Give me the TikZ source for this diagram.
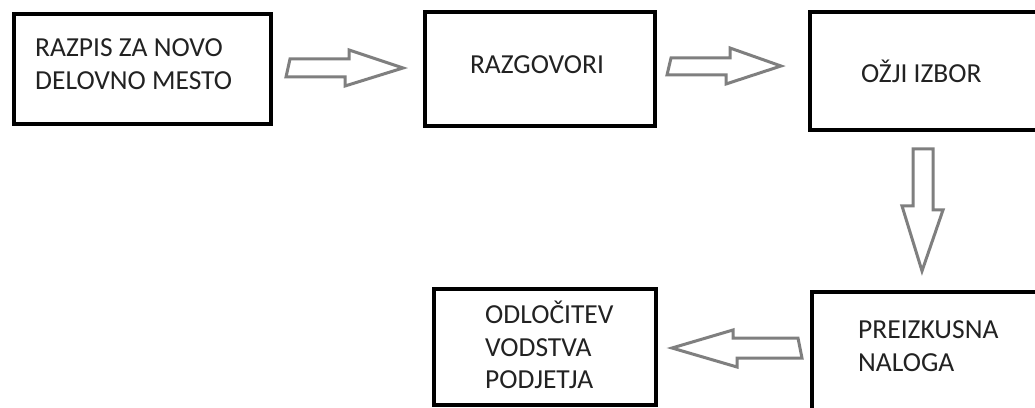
\documentclass[tikz,border=0pt]{standalone}
\usepackage{fontspec}
\setmainfont{Carlito}
\usepackage{xcolor}
\usepackage{tikz}
\usetikzlibrary{calc}
\definecolor{cBox}{HTML}{000000}
\definecolor{cTxt}{HTML}{222222}
\definecolor{cArr}{HTML}{7F7F7F}
\tikzset{
  fig/box/.style    ={draw=cBox, line width=4pt, fill=white, inner sep=0pt},
  fig/txt/.style    ={font=\fontsize{27.5}{32.5}\selectfont, text=cTxt,
                      align=left, inner sep=0pt},
  fig/blockarr/.style={draw=cArr, line width=3pt, fill=white, line join=miter}
}

\begin{document}
\begin{tikzpicture}[x=1pt, y=1pt]
    \path[use as bounding box, clip] (0,0) rectangle (1035,407);
    % the five steps
    \node[fig/box, minimum width=257pt, minimum height=110pt] (razpis)    at (142.5,338) {};
    \node[fig/box, minimum width=230pt, minimum height=114pt] (razgovori) at (540,338)   {};
    \node[fig/box, minimum width=232pt, minimum height=118pt] (izbor)     at (926,336)   {};
    \node[fig/box, minimum width=232pt, minimum height=118pt] (preizkus)  at (928,56)    {};
    \node[fig/box, minimum width=222pt, minimum height=116pt] (odlocitev) at (545,60)    {};

    \node[fig/txt, anchor=west] (lblRazpis)    at ($(razpis.west)+(23,5)$)    {RAZPIS ZA NOVO\\DELOVNO MESTO};
    \node[fig/txt]              (lblRazgovori) at ($(razgovori)+(-3,4)$)      {RAZGOVORI};
    \node[fig/txt, anchor=west] (lblIzbor)     at ($(izbor.west)+(53,0)$)     {OŽJI IZBOR};
    \node[fig/txt, anchor=west] (lblPreizkus)  at ($(preizkus.west)+(48,5)$)  {PREIZKUSNA\\NALOGA};
    \node[fig/txt, anchor=west] (lblOdlocitev) at ($(odlocitev.west)+(53,2)$) {ODLOČITEV\\VODSTVA\\PODJETJA};

    % hollow block arrows between the steps
    \draw[fig/blockarr] ($(razpis.east)+(17,10)$) -- ++(59,0) -- ++(0,9)
        -- ($(razgovori.west)+(-20,1)$) -- ++(-58,-18) -- ++(0,9) -- ++(-59,0) -- cycle;
    \draw[fig/blockarr] ($(razgovori.east)+(14,11)$) -- ++(59,0) -- ++(0,10)
        -- ($(izbor.west)+(-27,5)$) -- ++(-55,-18) -- ++(0,9) -- ++(-59,0) -- cycle;
    \draw[fig/blockarr] ($(izbor.south)+(-13,-17)$) -- ++(20,0) -- ++(0,-61) -- ++(10,0)
        -- ($(preizkus.north)+(-6,19)$) -- ++(-20,65) -- ++(11,0) -- cycle;
    \draw[fig/blockarr] ($(preizkus.west)+(-12,13)$) -- ++(-65,0) -- ++(0,8)
        -- ($(odlocitev.east)+(14,-1)$) -- ++(65,-19) -- ++(0,9) -- ++(65,0) -- cycle;
\end{tikzpicture}
\end{document}
